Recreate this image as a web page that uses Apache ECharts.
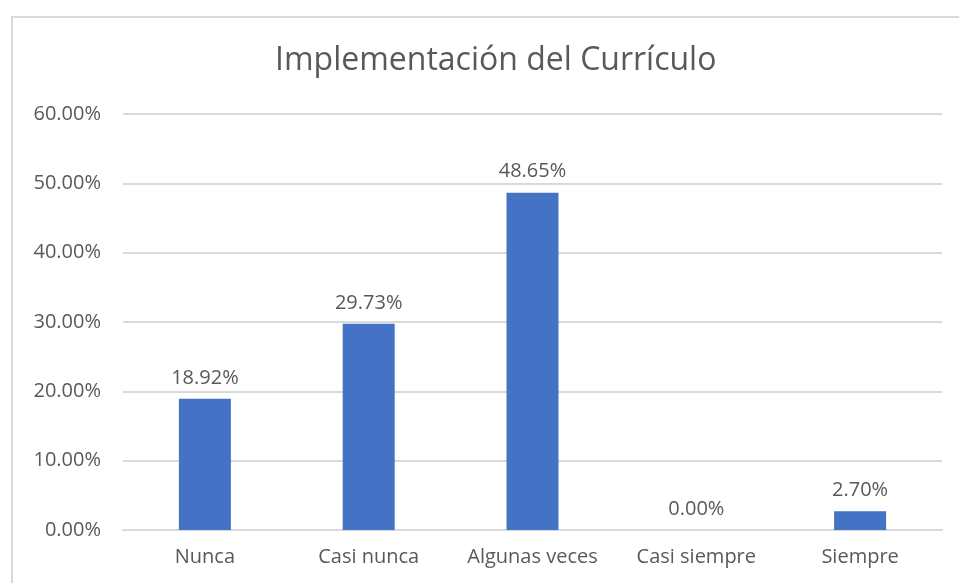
<!DOCTYPE html>
<html>
<head>
    <meta charset="utf-8">
    <title>Implementación del Currículo</title>
    <script src="https://cdn.jsdelivr.net/npm/echarts@6/dist/echarts.min.js"></script>
    <style>
        html, body { margin: 0; padding: 0; background: #fff; }
        #frame {
            position: absolute;
            left: 11px; top: 16px;
            width: 960px; height: 580px;
            border-left: 2px solid #d9d9d9;
            border-top: 2px solid #d9d9d9;
        }
        #main { position: absolute; left: 0; top: 0; width: 959px; height: 583px; }
    </style>
</head>
<body>
    <div id="frame"></div>
    <div id="main"></div>
    <script>
        // datos
        var categorias = ['Nunca', 'Casi nunca', 'Algunas veces', 'Casi siempre', 'Siempre'];
        var porcentajes = [18.92, 29.73, 48.65, 0.00, 2.70];
        var ejeMax = 60;
        var ejeIntervalo = 10;

        var chart = echarts.init(document.getElementById('main'));
        var fuente = 'Open Sans, DejaVu Sans, sans-serif';

        var option = {
            animation: false,
            title: {
                text: 'Implementación del Currículo',
                left: 270,
                top: 40,
                textStyle: { color: '#595959', fontSize: 32, fontWeight: 'normal', fontFamily: fuente }
            },
            grid: { left: 123, right: 17, top: 114, bottom: 53, containLabel: false },
            xAxis: {
                type: 'category',
                data: categorias,
                axisLine: { lineStyle: { color: '#d9d9d9', width: 2 } },
                axisTick: { show: false },
                axisLabel: { interval: 0, hideOverlap: false, color: '#595959', fontSize: 20, fontFamily: fuente, margin: 17 }
            },
            yAxis: {
                type: 'value',
                min: 0,
                max: ejeMax,
                interval: ejeIntervalo,
                axisLine: { show: false },
                axisTick: { show: false },
                splitLine: { lineStyle: { color: '#d9d9d9', width: 2 } },
                axisLabel: {
                    color: '#595959', fontSize: 20, fontFamily: fuente, margin: 22,
                    formatter: function (v) { return v.toFixed(2) + '%'; }
                }
            },
            series: [{
                type: 'bar',
                data: porcentajes,
                barWidth: 52,
                itemStyle: { color: '#4472C4' },
                label: {
                    show: true,
                    position: 'top',
                    distance: 11,
                    color: '#595959',
                    fontSize: 20,
                    fontFamily: fuente,
                    formatter: function (p) { return p.value.toFixed(2) + '%'; }
                }
            }]
        };
        chart.setOption(option);
    </script>
</body>
</html>
